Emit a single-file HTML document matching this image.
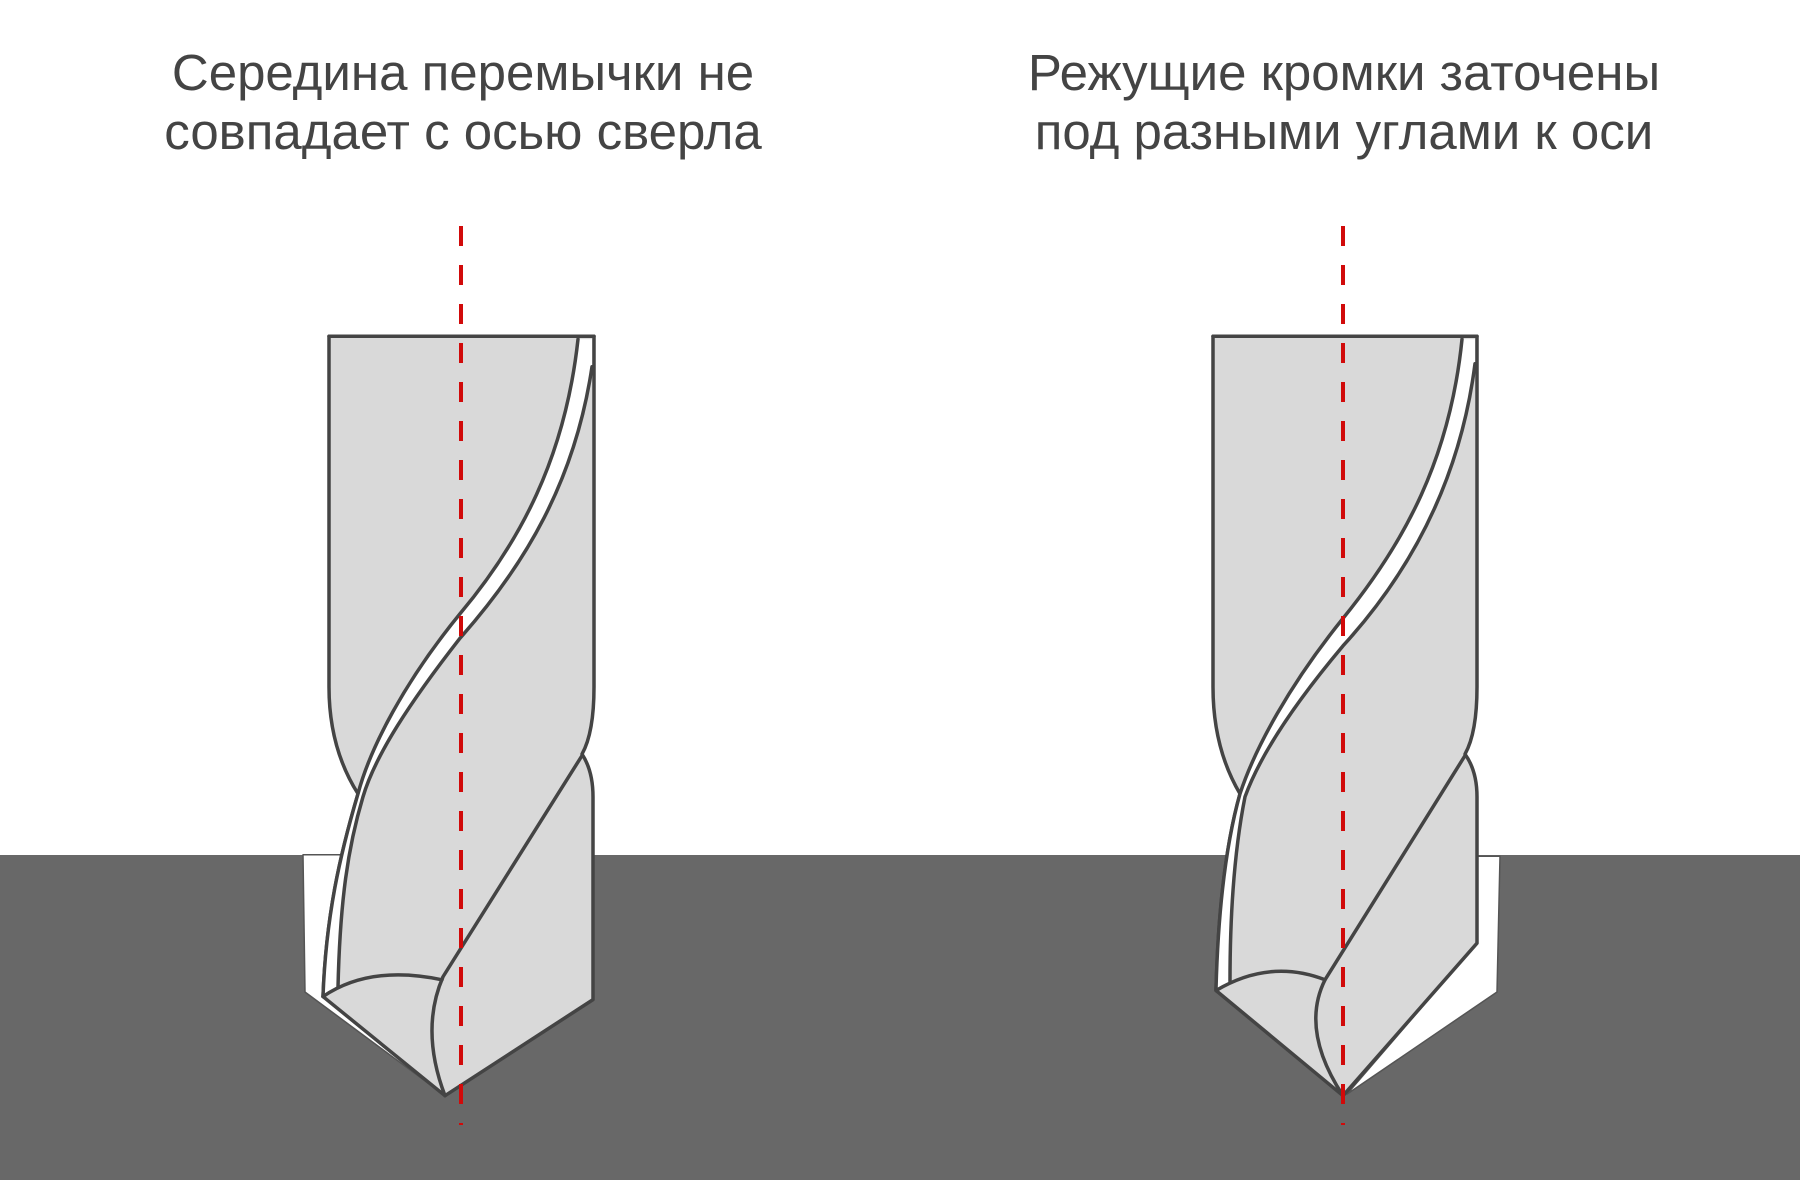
<!DOCTYPE html>
<html><head><meta charset="utf-8"><style>
html,body{margin:0;padding:0;background:#fff;}
svg{display:block;}
text{font-family:"Liberation Sans",sans-serif;fill:#444;font-size:51px;}
</style></head><body>
<svg width="1800" height="1180" viewBox="0 0 1800 1180" xmlns="http://www.w3.org/2000/svg">
<rect x="0" y="0" width="1800" height="1180" fill="#fff"/>
<text x="463" y="90" text-anchor="middle">Середина перемычки не</text>
<text x="463" y="149" text-anchor="middle">совпадает с осью сверла</text>
<text x="1344" y="90" text-anchor="middle">Режущие кромки заточены</text>
<text x="1344" y="149" text-anchor="middle">под разными углами к оси</text>
<rect x="0" y="855" width="1800" height="325" fill="#686868"/>

<g transform="translate(0,-167) scale(1,1.525)">
<g stroke="#444" stroke-width="3.5" stroke-linejoin="round" stroke-linecap="round">
<!-- left drill -->
<polygon points="303,670 345,670 323,763 445,828 305,760" fill="#fff" stroke="#555" stroke-width="1.5" vector-effect="non-scaling-stroke"/>
<path vector-effect="non-scaling-stroke" d="M329,330 H594 V560 Q594,590 582,604 Q593,615 593,632 V765 L445,828 L323,763 C326,710 340,670 358,630 Q329,600 329,560 Z" fill="#d9d9d9"/>
<path d="M578,332 C565,410 520,465 460,512 C405,556 370,600 358,630 C340,670 326,710 323,763 L338,757 C340,700 348,665 363,632 C375,605 410,570 460,528 C525,480 575,425 592,350 V332 Z" fill="#fff" stroke="none"/>
<path vector-effect="non-scaling-stroke" d="M578,332 C565,410 520,465 460,512 C405,556 370,600 358,630 C340,670 326,710 323,763" fill="none"/>
<path vector-effect="non-scaling-stroke" d="M592,350 C575,425 525,480 460,528 C410,570 375,605 363,632 C348,665 340,700 338,757" fill="none"/>
<path vector-effect="non-scaling-stroke" d="M329,330 H594" fill="none"/>
<path vector-effect="non-scaling-stroke" d="M323,763 Q370,742 442,752" fill="none"/>
<path vector-effect="non-scaling-stroke" d="M582,605 L443,750 Q420,785 445,828" fill="none"/>

<!-- right drill -->
<polygon points="1477,671 1500,671 1497,760 1347,827 1477,728" fill="#fff" stroke="#555" stroke-width="1.5" vector-effect="non-scaling-stroke"/>
<path vector-effect="non-scaling-stroke" d="M1213,330 H1477 V560 Q1477,590 1465,604 Q1477,615 1477,632 V728 L1343,828 L1216,759 C1218,710 1225,665 1240,630 Q1213,600 1213,560 Z" fill="#d9d9d9"/>
<path d="M1462,332 C1450,410 1405,465 1343,515 C1290,558 1255,600 1240,630 C1225,665 1218,710 1216,758 L1230,753 C1230,705 1235,665 1245,632 C1260,605 1293,572 1343,533 C1410,485 1460,425 1475,348 V332 Z" fill="#fff" stroke="none"/>
<path vector-effect="non-scaling-stroke" d="M1462,332 C1450,410 1405,465 1343,515 C1290,558 1255,600 1240,630 C1225,665 1218,710 1216,758" fill="none"/>
<path vector-effect="non-scaling-stroke" d="M1475,348 C1460,425 1410,485 1343,533 C1293,572 1260,605 1245,632 C1235,665 1230,705 1230,753" fill="none"/>
<path vector-effect="non-scaling-stroke" d="M1213,330 H1477" fill="none"/>
<path vector-effect="non-scaling-stroke" d="M1216,759 Q1270,738 1325,752" fill="none"/>
<path vector-effect="non-scaling-stroke" d="M1465,605 L1325,752 Q1300,785 1343,828" fill="none"/>
</g>
</g>

<g stroke="#d10a0a" stroke-width="4" stroke-dasharray="20 19" fill="none">
<line x1="461" y1="226" x2="461" y2="1125"/>
<line x1="1343" y1="226" x2="1343" y2="1125"/>
</g>
</svg>
</body></html>
